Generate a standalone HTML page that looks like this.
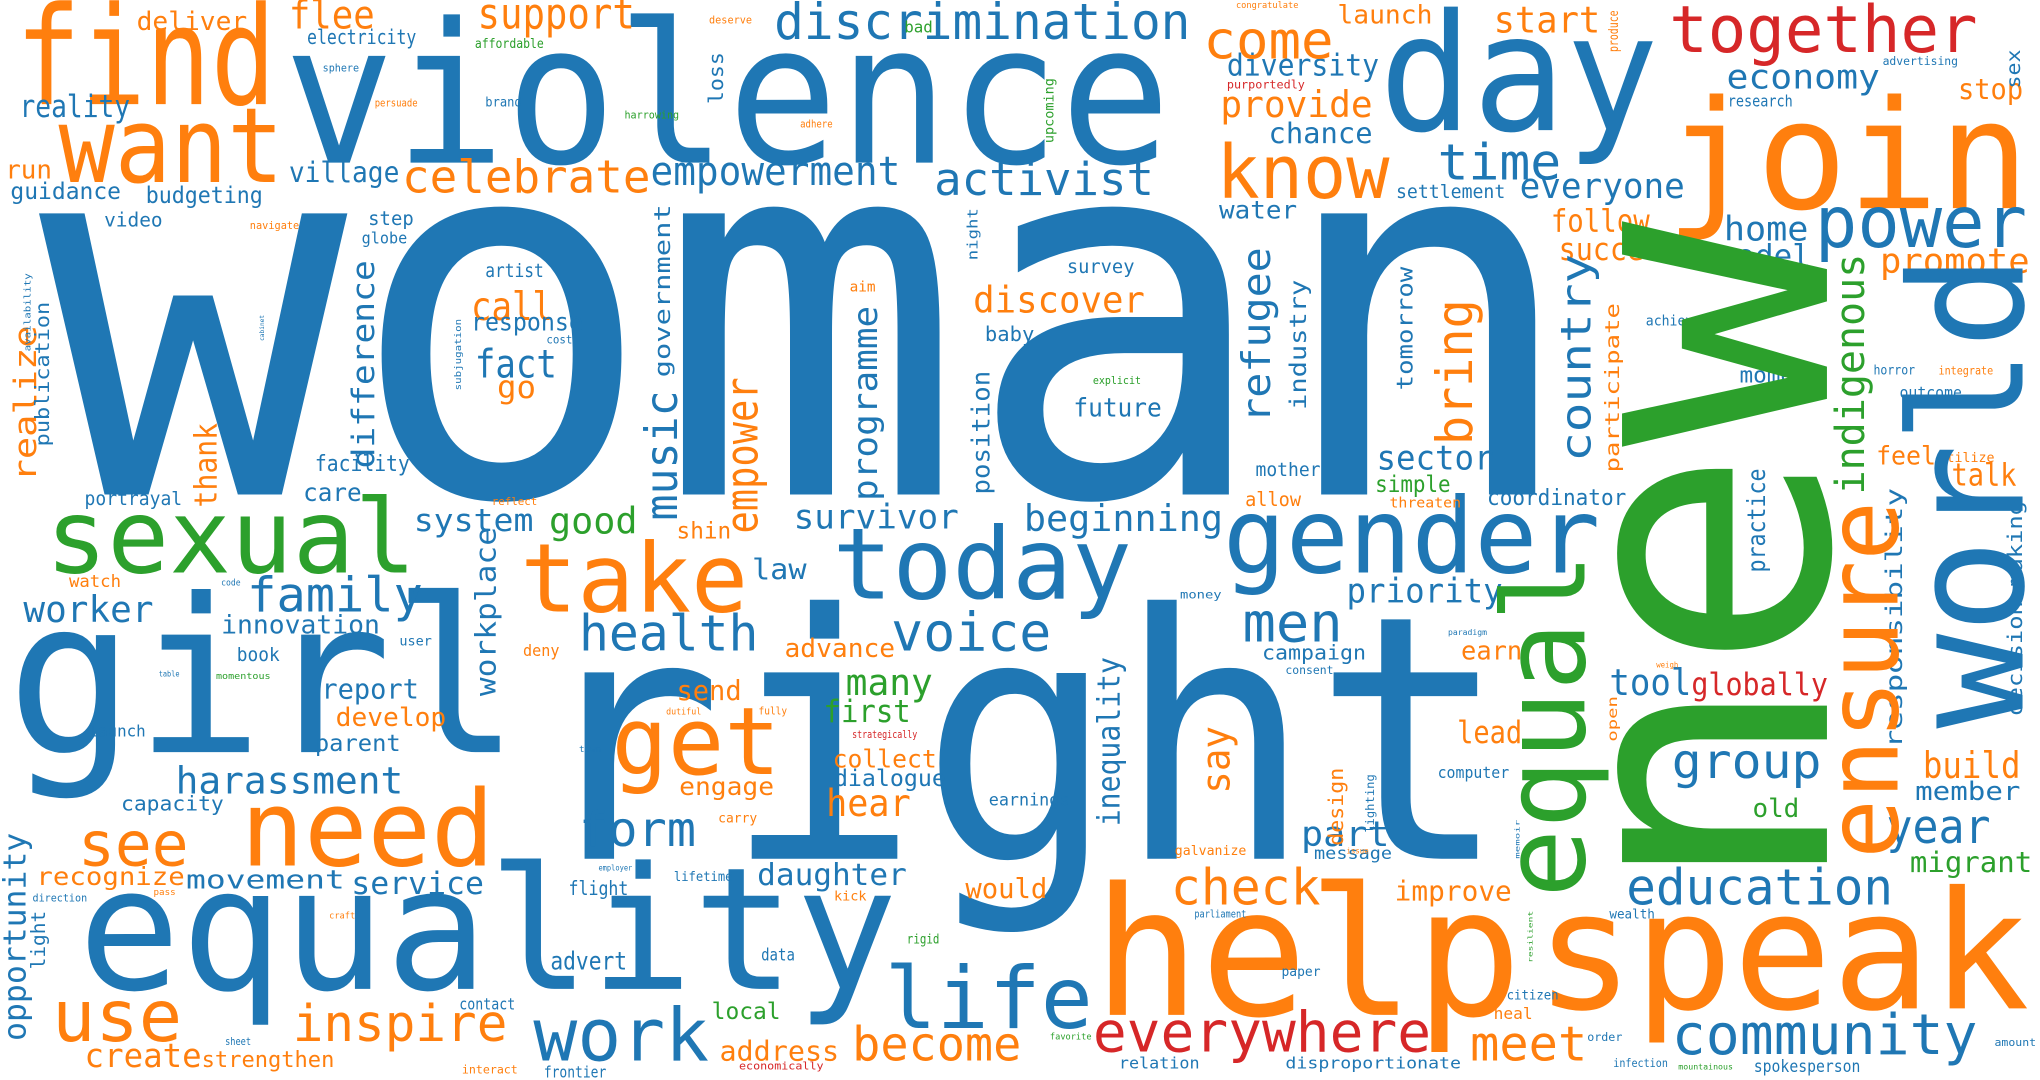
<!DOCTYPE html>
<html><head><meta charset="utf-8"><title>Word cloud</title>
<style>
html,body{margin:0;padding:0;background:#fff;width:2040px;height:1080px;overflow:hidden}
svg{display:block}
text{font-family:"DejaVu Sans Mono","Liberation Mono",monospace}
</style></head>
<body>
<svg id="cloud" width="2040" height="1080" viewBox="0 0 1568 830" preserveAspectRatio="none" xmlns="http://www.w3.org/2000/svg">
<rect width="1568" height="830" fill="#fff"/>
</svg>
<script>
const B="#1f77b4",O="#ff7f0e",G="#2ca02c",R="#d62728";
// word, x(left or baseline-x if vertical), y(baseline or bottom if vertical), fontSize, length, color, vertical
const words=[
["woman",30,380,395,1185,B,0],
["violence",218,125,150,682,B,0],
["find",12,80,105,200,O,0],
["want",45,140,80,173,O,0],
["day",1060,100,125,215,B,0],
["join",1280,160,116,280,O,0],
["right",405,660,262,755,B,0],
["girl",5,578,165,395,B,0],
["equality",60,760,131,630,B,0],
["help",840,780,137,330,O,0],
["speak",1180,775,126,380,O,0],
["gender",940,440,80,290,B,0],
["today",640,460,76,230,B,0],
["take",400,470,73,175,O,0],
["sexual",35,440,79,285,G,0],
["get",470,595,72,130,O,0],
["need",185,665,81,195,O,0],
["life",680,790,66,160,B,0],
["work",410,815,56,135,B,0],
["use",40,800,55,100,O,0],
["see",60,665,47,85,O,0],
["inspire",225,800,39,165,O,0],
["create",65,820,25,90,O,0],
["strengthen",155,820,17,102,O,0],
["everywhere",840,808,43,260,R,0],
["meet",1130,815,37,90,O,0],
["community",1285,810,43,235,B,0],
["education",1250,695,38,205,B,0],
["check",900,695,38,115,O,0],
["become",655,815,36,130,O,0],
["address",553,815,21,92,O,0],
["local",547,783,18,53,G,0],
["form",445,650,37,90,B,0],
["health",445,500,38,138,B,0],
["voice",685,500,41,123,B,0],
["family",190,470,37,135,B,0],
["worker",18,478,28,100,B,0],
["innovation",170,487,20,122,B,0],
["harassment",135,610,29,175,B,0],
["movement",143,683,20,122,B,0],
["service",270,687,24,102,B,0],
["recognize",28,680,19,114,O,0],
["report",247,537,21,75,B,0],
["develop",258,558,20,85,O,0],
["parent",242,577,18,66,B,0],
["launch",68,566,12,44,B,0],
["capacity",93,623,16,79,B,0],
["book",182,508,14,33,B,0],
["care",233,385,19,45,B,0],
["facility",242,362,17,73,B,0],
["portrayal",65,388,14,75,B,0],
["system",318,408,24,92,B,0],
["good",422,410,28,68,G,0],
["survivor",610,406,26,127,B,0],
["beginning",787,408,28,153,B,0],
["law",578,445,22,42,B,0],
["shin",520,414,18,42,O,0],
["advance",603,505,20,85,O,0],
["many",650,534,28,67,G,0],
["first",633,555,24,67,G,0],
["send",520,538,21,50,O,0],
["collect",640,590,19,80,O,0],
["dialogue",641,604,18,86,B,0],
["engage",522,611,19,73,O,0],
["hear",635,627,29,65,O,0],
["daughter",582,680,23,115,B,0],
["would",742,690,21,63,O,0],
["advert",423,745,19,59,B,0],
["data",585,738,13,26,B,0],
["contact",353,776,12,43,B,0],
["flight",437,688,15,46,B,0],
["men",955,493,42,77,B,0],
["priority",1035,463,26,120,B,0],
["campaign",970,507,16,80,B,0],
["consent",988,518,9,37,B,0],
["earn",1123,507,20,47,O,0],
["tool",1237,534,28,63,B,0],
["globally",1300,534,24,105,R,0],
["lead",1120,571,24,50,O,0],
["group",1285,598,37,115,B,0],
["old",1347,628,20,36,G,0],
["part",1000,650,27,68,B,0],
["message",1010,660,13,60,B,0],
["improve",1072,692,21,90,O,0],
["year",1450,648,36,80,B,0],
["migrant",1468,670,22,94,G,0],
["build",1478,598,28,75,O,0],
["member",1472,615,20,81,B,0],
["computer",1105,598,12,55,B,0],
["sector",1058,361,26,90,B,0],
["simple",1057,378,18,58,G,0],
["coordinator",1143,388,17,107,B,0],
["mother",965,366,14,50,B,0],
["allow",957,389,15,43,O,0],
["threaten",1068,390,11,55,O,0],
["moment",1337,294,17,63,B,0],
["talk",1500,373,24,50,O,0],
["feel",1442,357,20,46,O,0],
["utilize",1490,355,10,43,O,0],
["future",825,320,20,68,B,0],
["baby",757,262,16,38,B,0],
["discover",748,240,28,132,O,0],
["survey",820,210,14,52,B,0],
["water",937,168,19,60,B,0],
["activist",718,150,35,169,B,0],
["empowerment",500,142,31,192,B,0],
["time",1105,138,38,95,B,0],
["know",935,152,57,133,O,0],
["everyone",1168,152,27,127,B,0],
["settlement",1073,152,14,84,B,0],
["chance",975,110,22,80,B,0],
["provide",938,90,28,117,O,0],
["diversity",943,58,23,117,B,0],
["come",925,45,40,100,O,0],
["discrimination",595,30,38,320,B,0],
["support",367,22,33,121,O,0],
["flee",222,22,30,66,O,0],
["deliver",105,23,20,85,O,0],
["electricity",236,34,16,84,B,0],
["affordable",365,37,10,53,G,0],
["reality",15,90,24,85,B,0],
["village",222,140,22,85,B,0],
["celebrate",309,148,35,191,O,0],
["run",4,137,20,36,O,0],
["guidance",8,153,18,85,B,0],
["budgeting",112,156,18,90,B,0],
["video",80,174,15,45,B,0],
["step",283,173,15,35,B,0],
["globe",278,187,12,35,B,0],
["artist",373,213,14,45,B,0],
["call",362,246,30,63,O,0],
["response",362,254,19,86,B,0],
["fact",365,290,30,63,B,0],
["go",382,306,24,30,O,0],
["cost",420,264,9,20,B,0],
["together",1283,40,50,237,R,0],
["launch",1028,18,20,73,O,0],
["start",1148,25,28,82,O,0],
["economy",1327,68,26,118,B,0],
["research",1328,82,12,50,B,0],
["stop",1505,76,22,50,O,0],
["advertising",1447,50,9,58,B,0],
["power",1395,190,55,163,B,0],
["home",1325,185,26,65,B,0],
["model",1320,205,24,72,B,0],
["follow",1192,178,24,76,O,0],
["succeed",1198,200,24,92,O,0],
["promote",1445,210,27,115,O,0],
["achievement",1265,250,11,67,B,0],
["horror",1440,288,10,32,B,0],
["integrate",1490,288,9,42,O,0],
["outcome",1460,306,12,48,B,0],
["benefit",1500,392,8,33,O,0],
["purportedly",943,68,9,60,R,0],
["brand",373,82,10,28,B,0],
["persuade",288,82,8,33,O,0],
["harrowing",480,91,8,42,G,0],
["adhere",615,98,8,25,O,0],
["sphere",248,55,8,28,B,0],
["deserve",545,18,8,33,O,0],
["bad",695,25,12,22,G,0],
["congratulate",950,6,7,48,O,0],
["navigate",192,176,8,38,O,0],
["aim",653,224,11,20,O,0],
["explicit",840,295,8,37,G,0],
["reflect",378,388,8,35,O,0],
["watch",53,451,13,40,O,0],
["money",907,460,9,32,B,0],
["deny",402,504,12,28,O,0],
["user",307,496,10,25,B,0],
["momentous",166,522,7,42,G,0],
["fully",583,549,8,22,O,0],
["dutiful",512,549,7,27,O,0],
["strategically",655,567,8,50,R,0],
["town",445,578,7,17,B,0],
["carry",552,632,10,30,O,0],
["earnings",760,619,13,62,B,0],
["galvanize",903,657,10,55,O,0],
["lifetime",518,677,10,45,B,0],
["kick",641,692,10,25,O,0],
["direction",25,693,8,42,B,0],
["pass",118,688,7,17,O,0],
["craft",253,706,7,20,O,0],
["rigid",697,725,10,25,G,0],
["parliament",918,705,8,40,B,0],
["wealth",1237,706,10,35,B,0],
["paper",985,750,10,30,B,0],
["citizen",1158,768,10,40,B,0],
["heal",1148,783,12,30,O,0],
["order",1220,800,9,27,B,0],
["infection",1240,820,9,42,B,0],
["spokesperson",1348,824,13,82,B,0],
["amount",1533,804,8,32,B,0],
["relation",860,821,12,62,B,0],
["disproportionate",988,821,12,135,B,0],
["economically",568,822,8,65,R,0],
["frontier",418,828,12,48,B,0],
["interact",355,825,9,43,O,0],
["sheet",173,803,8,20,B,0],
["favorite",807,799,7,32,G,0],
["mountainous",1290,822,6,42,G,0],
["employer",460,669,6,26,B,0],
["issue",1035,656,6,17,O,0],
["paradigm",1113,488,6,30,B,0],
["code",170,450,7,15,B,0],
["weigh",1273,513,6,17,O,0],
["table",122,520,6,16,B,0],
["sex",1553,68,15,30,B,1],
["produce",1246,40,10,32,O,1],
["say",952,610,30,52,O,1],
["inequality",866,635,24,130,B,1],
["workplace",386,535,22,130,B,1],
["difference",288,360,24,160,B,1],
["thank",167,390,24,65,O,1],
["realize",28,370,24,120,O,1],
["publication",41,343,15,111,B,1],
["music",521,400,34,100,B,1],
["government",519,290,17,133,B,1],
["empower",590,410,34,120,O,1],
["programme",680,385,26,150,B,1],
["position",765,380,19,95,B,1],
["night",754,200,11,40,B,1],
["upcoming",812,110,10,50,G,1],
["loss",556,80,16,40,B,1],
["refugee",983,325,30,135,B,1],
["industry",1008,315,18,100,B,1],
["tomorrow",1086,300,17,95,B,1],
["bring",1140,342,38,112,O,1],
["country",1230,355,32,160,B,1],
["participate",1248,363,15,130,O,1],
["practice",1361,440,19,80,B,1],
["responsibility",1466,575,18,200,B,1],
["decision-making",1558,550,16,165,B,1],
["design",1036,650,16,60,O,1],
["lighting",1058,640,9,45,B,1],
["open",1245,570,10,35,O,1],
["opportunity",25,800,24,160,B,1],
["light",38,745,15,45,B,1],
["availability",25,270,7,60,B,1],
["subjugation",356,300,7,55,B,1],
["memoir",1168,660,5,30,B,1],
["resilient",1178,740,5,40,G,1],
["cabinet",203,262,5,20,B,1],
["indigenous",1440,380,31,185,G,1],
["ensure",1460,660,76,275,O,1],
["equal",1238,690,88,265,G,1],
["world",1557,560,121,365,B,1],
["new",1410,690,288,520,G,1]
];
const svg=document.getElementById('cloud');
const NS="http://www.w3.org/2000/svg";
words.forEach(w=>{
  const [word,x,y,fs,len,color,vert]=w;
  const t=document.createElementNS(NS,'text');
  
  
  t.setAttribute('font-size',fs);
  t.setAttribute('fill',color);
  t.setAttribute('textLength',len);
  t.setAttribute('lengthAdjust','spacingAndGlyphs');
  if(vert){
    const hasDesc=/[gjpqy]/.test(word);
    const bx=x-(hasDesc?0.23*fs:0.02*fs);
    t.setAttribute('x',0);t.setAttribute('y',0);
    t.setAttribute('transform','translate('+bx+','+y+') rotate(-90)');
  }else{
    t.setAttribute('x',x);t.setAttribute('y',y);
  }
  t.textContent=word;
  svg.appendChild(t);
});
</script>
</body></html>
